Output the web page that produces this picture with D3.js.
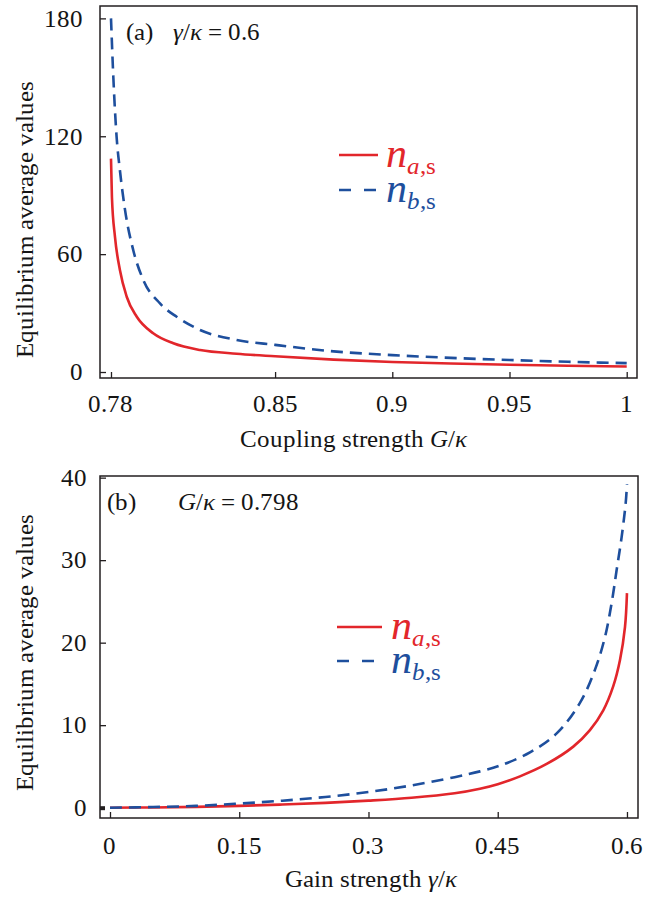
<!DOCTYPE html>
<html><head><meta charset="utf-8">
<script src="https://cdn.jsdelivr.net/npm/d3@7"></script>
<style>
@font-face{font-family:"ChartSerif";src:local("Liberation Serif"),local("LiberationSerif"),local("Liberation Serif Regular"),local("LiberationSerif-Regular");font-style:normal;}
@font-face{font-family:"ChartSerif";src:local("Liberation Serif Italic"),local("LiberationSerif-Italic");font-style:italic;}
</style>
</head><body style="margin:0;background:#fff">
<svg id="c" width="670" height="897" font-family="Liberation Serif"></svg>
<script>
// ---------- data ----------
// Panel (a): gamma/kappa = 0.6, vs coupling strength G/kappa
const couplingRed = [0.78,0.7804,0.7817,0.7838,0.7867,0.791,0.798,0.8066,0.818,0.8336,0.85,0.875,0.9,0.925,0.95,0.975,1.0];
const naVsCoupling = [108.6,89,68.8,51.9,38.3,28.1,19.7,14.6,11.2,9.3,8.0,6.3,5.1,4.3,3.7,3.2,2.8];
const couplingBlue = [0.78,0.781,0.7824,0.7838,0.786,0.7895,0.7938,0.8009,0.808,0.818,0.8336,0.85,0.875,0.9,0.925,0.95,0.975,1.0];
const nbVsCoupling = [180,150,119.6,102.7,82.4,62,46.8,34.9,28.1,21.4,16.3,13.8,10.5,8.6,7.2,6.1,5.2,4.5];
const couplingTicks = [0.78,0.85,0.9,0.95,1];
const couplingTickLabels = ["0.78","0.85","0.9","0.95","1"];
const valueTicksA = [0,60,120,180];

// Panel (b): G/kappa = 0.798, vs gain strength gamma/kappa
const gainRed = [0,0.05,0.1,0.15,0.2,0.25,0.3,0.35,0.4,0.4294,0.45,0.4758,0.5068,0.5377,0.557,0.5725,0.584,0.5919,0.5977,0.6];
const naVsGain = [0,0.03,0.1,0.22,0.38,0.58,0.85,1.2,1.75,2.3,2.85,3.8,5.3,7.4,9.4,11.8,14.7,17.9,21.9,26];
const gainBlue = [0,0.05,0.1,0.15,0.2,0.25,0.3,0.35,0.4,0.4294,0.4526,0.4874,0.5184,0.5454,0.5628,0.5745,0.5822,0.588,0.5938,0.5985,0.6];
const nbVsGain = [0,0.08,0.22,0.5,0.85,1.3,1.9,2.7,3.7,4.4,5.1,6.7,9.0,12.7,16.7,20.7,24.8,28.8,32.8,36.9,39.2];
const gainTicks = [0,0.15,0.3,0.45,0.6];
const gainTickLabels = ["0","0.15","0.3","0.45","0.6"];
const valueTicksB = [0,10,20,30,40];

const RED = "#e2262b", BLUE = "#1e4f9d", FRAME = "#231f20", INK = "#151515";
const FONT = "Liberation Serif";
const FONT_CSS = "ChartSerif, 'Liberation Serif', 'Times New Roman', serif";
const svg = d3.select("#c");

function setFont(sel){
  return sel.attr("font-family",FONT).style("font-family",FONT_CSS,"important");
}
function txt(parent, x, y, size){
  return setFont(parent.append("text").attr("x",x).attr("y",y)
    .attr("font-size",size).attr("fill",INK));
}

function panel(cfg){
  const g = svg.append("g");
  const x = d3.scaleLinear().domain(cfg.xDomain).range([cfg.left, cfg.right]);
  const y = d3.scaleLinear().domain(cfg.yDomain).range([cfg.bottom, cfg.top]);

  const line = d3.line().x(d=>x(d[0])).y(d=>y(d[1])).curve(cfg.curve);
  g.append("path").datum(cfg.xr.map((v,i)=>[v,cfg.yr[i]]))
    .attr("d",line).attr("fill","none").attr("stroke",RED).attr("stroke-width",2.6);
  g.append("path").datum(cfg.xb.map((v,i)=>[v,cfg.yb[i]]))
    .attr("d",line).attr("fill","none").attr("stroke",BLUE).attr("stroke-width",2.6)
    .attr("stroke-dasharray","12,7");

  const ax = g.append("g").attr("transform",`translate(0,${cfg.bottom})`)
    .call(d3.axisBottom(x).tickValues(cfg.xTicks).tickSize(-6).tickFormat(""));
  const ay = g.append("g").attr("transform",`translate(${cfg.left},0)`)
    .call(d3.axisLeft(y).tickValues(cfg.yTicks).tickSize(-6).tickFormat(""));
  [ax,ay].forEach(a=>{
    a.select(".domain").remove();
    a.selectAll(".tick text").remove();
    a.selectAll(".tick line").attr("stroke",FRAME).attr("stroke-width",1.3);
  });
  if(cfg.zeroMark){
    ay.selectAll(".tick").filter(d=>d===0).select("line").attr("stroke-width",4).attr("x1",0).attr("x2",5);
  }
  cfg.xTicks.forEach((v,i)=>{
    txt(g, x(v), cfg.xLabelY, 25).attr("text-anchor","middle").text(cfg.xLabels[i]);
  });
  cfg.yTicks.forEach(v=>{
    txt(g, cfg.yLabelX, y(v)+8.3, 25).attr("text-anchor","end").text(v);
  });

  g.append("rect").attr("x",cfg.left).attr("y",cfg.top)
    .attr("width",cfg.right-cfg.left).attr("height",cfg.bottom-cfg.top)
    .attr("fill","none").attr("stroke",FRAME).attr("stroke-width",1.5);

  txt(g, 0, 0, 25).attr("transform",`translate(${cfg.yTitleX},${cfg.yTitleY}) rotate(-90)`)
    .attr("text-anchor","middle").text("Equilibrium average values");

  const L = cfg.legend;
  g.append("line").attr("x1",L.x1).attr("x2",L.x2).attr("y1",L.y1).attr("y2",L.y1)
    .attr("stroke",RED).attr("stroke-width",2.6);
  g.append("line").attr("x1",L.x1).attr("x2",L.x2).attr("y1",L.y2).attr("y2",L.y2)
    .attr("stroke",BLUE).attr("stroke-width",2.6).attr("stroke-dasharray","12,13");
  const leg = (yb, sub, col)=>{
    const t = txt(g, L.tx, yb, 42).attr("fill",col);
    setFont(t.append("tspan")).attr("font-style","italic").text("n");
    setFont(t.append("tspan")).attr("font-size",25).attr("font-style","italic").attr("dy",7).text(sub);
    setFont(t.append("tspan")).attr("font-size",25).text(",s");
  };
  leg(L.y1+12, "a", RED);
  leg(L.y2+12, "b", BLUE);
  return {x,y,g};
}

panel({
  left:100,right:637,top:6,bottom:378,
  xDomain:[0.77531,1.00439], yDomain:[-3.05,186.3], curve:d3.curveMonotoneX,
  xr:couplingRed, yr:naVsCoupling, xb:couplingBlue, yb:nbVsCoupling,
  xTicks:couplingTicks, xLabels:couplingTickLabels, yTicks:valueTicksA,
  xLabelY:412, yLabelX:83, yTitleX:33, yTitleY:219,
  legend:{x1:339,x2:378,y1:155,y2:190,tx:386}
});
panel({
  left:100,right:638,top:476,bottom:818,
  xDomain:[-0.0116,0.6128], yDomain:[-1.25,40.2], curve:d3.curveCatmullRom.alpha(0.5),
  xr:gainRed, yr:naVsGain, xb:gainBlue, yb:nbVsGain,
  xTicks:gainTicks, xLabels:gainTickLabels, yTicks:valueTicksB,
  xLabelY:853.5, yLabelX:87, yTitleX:33, yTitleY:652, zeroMark:true,
  legend:{x1:337,x2:382,y1:627,y2:661,tx:391}
});

function ann(x,y,parts){
  const t = txt(svg, x, y, 25);
  parts.forEach(p=>{
    const s=setFont(t.append("tspan")).text(p[0]);
    if(p[1]) s.attr("font-style","italic");
    if(p[2]!=null) s.attr("dx",p[2]);
  });
}
ann(126,40,[["(a)"],["γ",true,20],["/"],["κ",true],[" = 0.6"]]);
ann(107,510,[["(b)"],["G",true,42],["/"],["κ",true],[" = 0.798"]]);
ann(240,447,[["Coupling strength "],["G",true],["/"],["κ",true]]);
ann(285,887,[["Gain strength "],["γ",true],["/"],["κ",true]]);
</script>
</body></html>
